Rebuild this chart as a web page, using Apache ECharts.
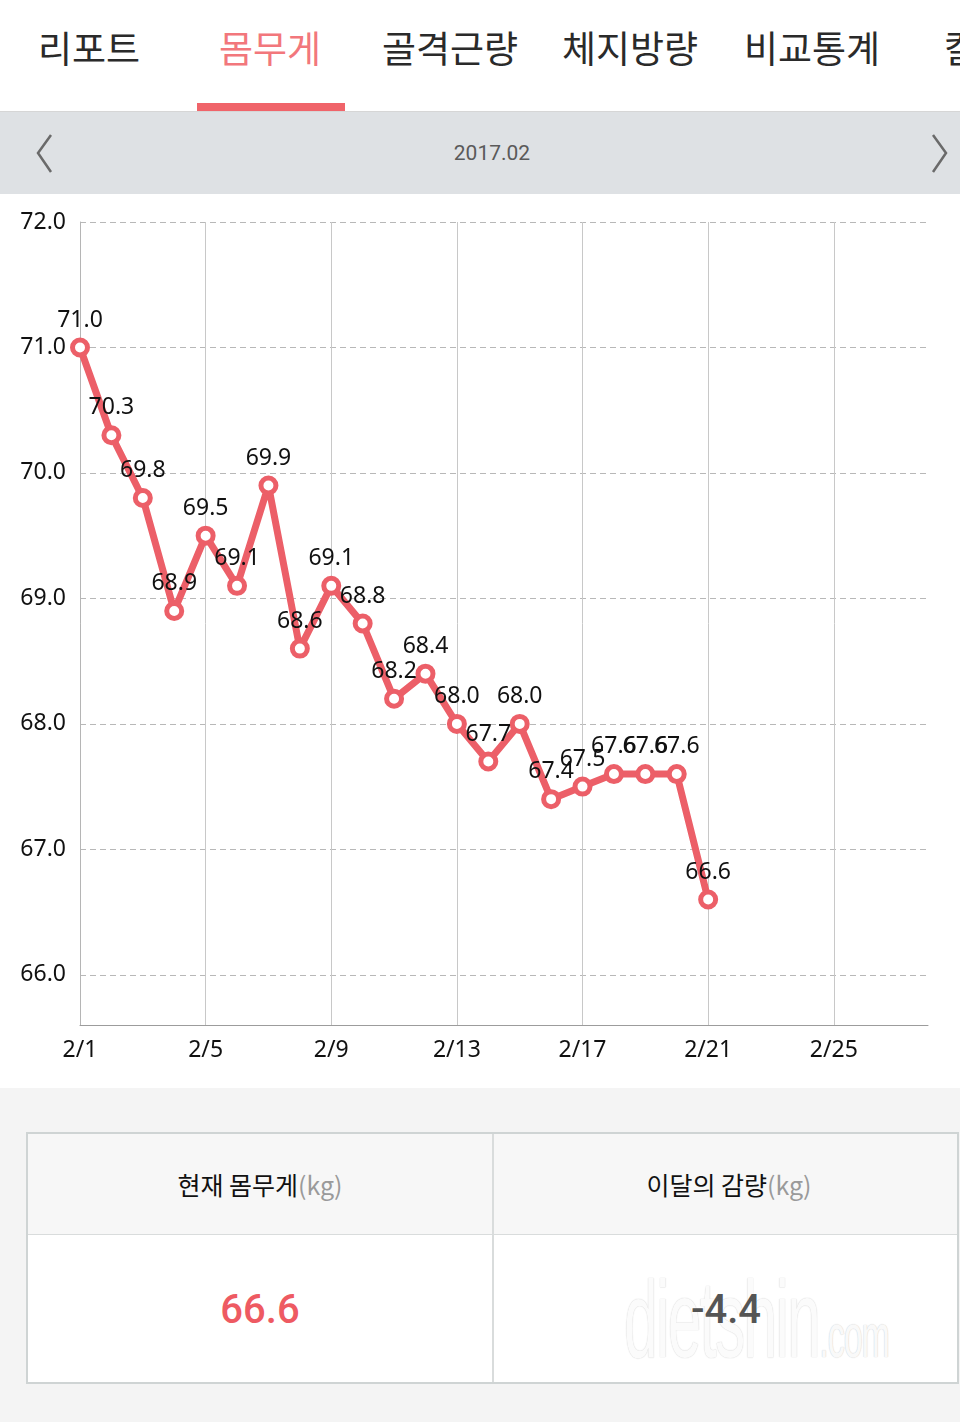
<!DOCTYPE html>
<html>
<head>
<meta charset="utf-8">
<script src="https://cdn.jsdelivr.net/npm/echarts@6/dist/echarts.min.js"></script>
<style>
  html, body { margin: 0; padding: 0; width: 960px; height: 1422px; overflow: hidden; background: #f4f4f4; font-family: "Noto Sans CJK KR", "Noto Sans", sans-serif; }
  #tabs { position: absolute; left: 0; top: 0; width: 960px; height: 111px; background: #fff; border-bottom: 1px solid #d6d6d6; }
  .tab { position: absolute; top: 19px; font-size: 37px; line-height: 56px; color: #2a2a2a; white-space: nowrap; }
  .tab.on { color: #f2777c; }
  #ul { position: absolute; left: 197px; top: 103px; width: 148px; height: 8px; background: #f0646a; }
  #bar { position: absolute; left: 0; top: 112px; width: 960px; height: 82px; background: #dee1e4; }
  #month { position: absolute; left: 0; width: 984px; top: 0; line-height: 82px; text-align: center; font-family: Roboto, "Noto Sans", sans-serif; font-size: 21px; color: #5a5a5a; }
  #chart { position: absolute; left: 0; top: 194px; width: 960px; height: 894px; background: #fff; }
  #tbl { position: absolute; left: 26px; top: 1132px; width: 933px; height: 252px; border: 2px solid #cfd4d4; background: #fff; box-sizing: border-box; overflow: hidden; }
  .hd { position: absolute; top: 0; height: 100px; background: #f7f7f7; border-bottom: 1px solid #d9dcdc; text-align: center; line-height: 100px; font-size: 25px; color: #111; }
  .hd span { color: #9a9a9a; }
  .bd { position: absolute; top: 101px; height: 146px; text-align: center; line-height: 150px; font-family: Roboto, "Noto Sans", sans-serif; font-size: 40px; z-index: 4; }
  #vdiv { position: absolute; left: 464px; top: 0; width: 2px; height: 250px; background: #d9dcdc; }
  #wm { position: absolute; left: 596px; top: 130px; font-family: "Liberation Sans Narrow", "Liberation Sans", sans-serif; font-size: 110px; line-height: 110px; color: rgba(255,255,255,0.9); text-shadow: 0 0 1px #d0d0d0, 0 0 2px #e2e2e2; letter-spacing: -3px; transform: scaleX(0.55); transform-origin: left top; z-index: 3; white-space: nowrap; }
  #wm small { font-size: 62px; letter-spacing: -2px; }
</style>
</head>
<body>
<div id="tabs">
  <div class="tab" style="left:38px">리포트</div>
  <div class="tab on" style="left:219px">몸무게</div>
  <div class="tab" style="left:382px">골격근량</div>
  <div class="tab" style="left:562px">체지방량</div>
  <div class="tab" style="left:744px">비교통계</div>
  <div class="tab" style="left:944px">칼로리</div>
  <div id="ul"></div>
</div>
<div id="bar">
  <svg width="960" height="82" style="position:absolute;left:0;top:0">
    <polyline points="51,23 38,41 51,60" fill="none" stroke="#6a6a6a" stroke-width="2.5"/>
    <polyline points="933,23 946,41 933,60" fill="none" stroke="#6a6a6a" stroke-width="2.5"/>
  </svg>
  <div id="month">2017.02</div>
</div>
<div id="chart"></div>
<div id="tbl">
  <div class="hd" style="left:0;width:464px">현재 몸무게<span>(kg)</span></div>
  <div class="hd" style="left:466px;width:470px">이달의 감량<span>(kg)</span></div>
  <div id="vdiv"></div>
  <div id="wm">dietshin<small>.com</small></div>
  <div class="bd" style="left:0;width:464px;color:#ee5a62;font-weight:500">66.6</div>
  <div class="bd" style="left:466px;width:464px;color:#555;font-weight:500">-4.4</div>
</div>
<script>
const days = ['2/1','2/2','2/3','2/4','2/5','2/6','2/7','2/8','2/9','2/10','2/11','2/12','2/13','2/14','2/15','2/16','2/17','2/18','2/19','2/20','2/21','2/22','2/23','2/24','2/25','2/26','2/27','2/28'];
const weights = [71.0,70.3,69.8,68.9,69.5,69.1,69.9,68.6,69.1,68.8,68.2,68.4,68.0,67.7,68.0,67.4,67.5,67.6,67.6,67.6,66.6,null,null,null,null,null,null,null];
const yTicks = [66,67,68,69,70,71,72];
const yMin = 65.6, yMax = 72;

const chart = echarts.init(document.getElementById('chart'), null, { renderer: 'canvas' });
const numFont = '"Noto Sans", sans-serif';
chart.setOption({
  animation: false,
  backgroundColor: '#fff',
  grid: { left: 80, right: 32, top: 28, bottom: 63, containLabel: false },
  xAxis: {
    type: 'category',
    data: days,
    boundaryGap: false,
    axisLine: { show: true, lineStyle: { color: '#9c9c9c', width: 1 } },
    axisTick: { show: false },
    axisLabel: { interval: 3, color: '#111', fontSize: 23, fontFamily: numFont, margin: 14 },
    splitLine: { show: true, interval: 3, lineStyle: { color: '#c8c8c8', width: 1, type: 'solid' } }
  },
  yAxis: {
    type: 'value',
    min: yMin,
    max: yMax,
    axisLine: { show: true, lineStyle: { color: '#b5b5b5', width: 1 } },
    axisTick: { show: false, customValues: yTicks },
    axisLabel: { customValues: yTicks, color: '#111', fontSize: 23, fontFamily: numFont, margin: 14, formatter: v => v.toFixed(1) },
    splitLine: { show: true, lineStyle: { color: '#b8b8b8', width: 1, type: [6, 4] } }
  },
  series: [{
    type: 'line',
    data: weights,
    connectNulls: false,
    lineStyle: { color: '#ec5f68', width: 7 },
    itemStyle: { color: '#fff', borderColor: '#ec5f68', borderWidth: 5 },
    symbol: 'circle',
    symbolSize: 15,
    showAllSymbol: true,
    label: {
      show: true,
      position: 'top',
      distance: 6,
      color: '#111',
      fontSize: 23,
      fontFamily: numFont,
      formatter: p => p.value == null ? '' : Number(p.value).toFixed(1)
    },
    z: 5
  }]
});
</script>
</body>
</html>
